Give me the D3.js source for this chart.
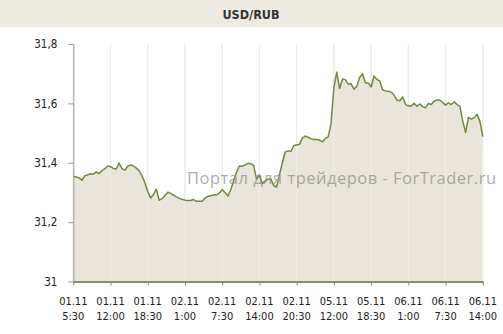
<!DOCTYPE html>
<html><head><meta charset="utf-8">
<script src="https://cdn.jsdelivr.net/npm/d3@7"></script>
<style>html,body{margin:0;padding:0;background:#fff;}svg{display:block;}</style>
</head><body>
<script>
const title = "USD/RUB";
const watermark = "Портал для трейдеров - ForTrader.ru";
// 30-minute steps from 01.11 5:30 to 06.11 14:00 (trading time)
const values = [
31.355,31.352,31.349,31.341,31.356,31.359,31.363,31.362,31.369,31.363,
31.373,31.380,31.389,31.387,31.381,31.379,31.399,31.380,31.375,31.388,
31.393,31.389,31.382,31.373,31.356,31.332,31.303,31.281,31.293,31.311,
31.274,31.279,31.290,31.301,31.297,31.291,31.285,31.280,31.277,31.274,
31.273,31.273,31.276,31.270,31.270,31.270,31.281,31.287,31.289,31.291,
31.292,31.298,31.309,31.300,31.288,31.310,31.339,31.368,31.389,31.388,
31.393,31.398,31.397,31.390,31.344,31.359,31.330,31.339,31.345,31.345,
31.323,31.318,31.360,31.400,31.436,31.440,31.438,31.458,31.460,31.462,
31.483,31.490,31.486,31.481,31.478,31.478,31.476,31.470,31.482,31.487,
31.532,31.653,31.705,31.650,31.682,31.680,31.665,31.666,31.648,31.658,
31.687,31.700,31.669,31.669,31.655,31.692,31.681,31.676,31.646,31.642,
31.641,31.638,31.628,31.611,31.609,31.622,31.597,31.591,31.591,31.600,
31.590,31.598,31.589,31.585,31.600,31.596,31.607,31.611,31.611,31.603,
31.594,31.602,31.596,31.605,31.596,31.591,31.540,31.502,31.553,31.547,
31.552,31.563,31.539,31.488];
const tickDates = ["01.11","01.11","01.11","02.11","02.11","02.11","02.11","05.11","05.11","06.11","06.11","06.11"];
const tickTimes = ["5:30","12:00","18:30","1:00","7:30","14:00","20:30","12:00","18:30","1:00","7:30","14:00"];
const tickIndex = tickDates.map((d,i)=>i*13);
const yTicks = [31, 31.2, 31.4, 31.6, 31.8];

const W = 503, H = 334;
const m = {left:73.3, right:503-482.8, top:44, bottom:334-281.5};
const svg = d3.select("body").append("svg").attr("width",W).attr("height",H);

svg.append("rect").attr("x",0).attr("y",0).attr("width",W).attr("height",27).attr("fill","#eeebe3");
svg.append("text").attr("x",251).attr("y",19).attr("text-anchor","middle")
  .attr("font-family","DejaVu Sans Condensed, DejaVu Sans, sans-serif").attr("font-weight","bold")
  .attr("font-size",12.5).attr("fill","#333").text(title);

const x = d3.scaleLinear().domain([0, values.length-1]).range([m.left, W-m.right]);
const y = d3.scaleLinear().domain([31, 31.8]).range([H-m.bottom, m.top]);

// grid
svg.append("g").selectAll("line").data(tickIndex).join("line")
  .attr("x1",d=>x(d)).attr("x2",d=>x(d)).attr("y1",m.top).attr("y2",H-m.bottom)
  .attr("stroke","#e4e4e4").attr("stroke-width",1);

const area = d3.area().x((d,i)=>x(i)).y0(y(31)).y1(d=>y(d));
svg.append("path").datum(values).attr("d",area).attr("fill","#e9e5da");

svg.append("g").selectAll("line").data(tickIndex).join("line")
  .attr("x1",d=>x(d)).attr("x2",d=>x(d)).attr("y1",m.top).attr("y2",H-m.bottom)
  .attr("stroke","#f1eee7").attr("stroke-width",1);

svg.append("path").datum(values).attr("d",d3.line().x((d,i)=>x(i)).y(d=>y(d)))
  .attr("fill","none").attr("stroke","#6f8a3f").attr("stroke-width",1.5).attr("stroke-linejoin","round");

// y axis
const fmt = v => v===31 ? "31" : d3.format(".1f")(v).replace(".",",");
const ya = svg.append("g").attr("transform",`translate(${m.left},0)`)
  .call(d3.axisLeft(y).tickValues(yTicks).tickFormat(fmt).tickSize(5).tickSizeOuter(0).tickPadding(11));
ya.select(".domain").attr("stroke","#9a9a9a");
ya.selectAll(".tick line").attr("stroke","#9a9a9a");
ya.selectAll("text").attr("font-family","DejaVu Sans Condensed, DejaVu Sans, sans-serif").attr("font-size",11.5).attr("fill","#222");

// x axis
const xa = svg.append("g").attr("transform",`translate(0,${H-m.bottom})`)
  .call(d3.axisBottom(x).tickValues(tickIndex).tickFormat("").tickSize(4).tickSizeOuter(0));
xa.select(".domain").attr("stroke","#8c8a70").attr("stroke-width",2);
xa.selectAll(".tick line").attr("stroke","#8c8a70");
const lbl = svg.append("g").attr("font-family","DejaVu Sans Condensed, DejaVu Sans, sans-serif").attr("font-size",11).attr("fill","#222").attr("text-anchor","middle");
lbl.selectAll("text.d").data(tickIndex).join("text").attr("class","d")
  .attr("x",d=>x(d)).attr("y",305).text((d,i)=>tickDates[i]);
lbl.selectAll("text.t").data(tickIndex).join("text").attr("class","t")
  .attr("x",d=>x(d)).attr("y",320).text((d,i)=>tickTimes[i]);

// watermark
svg.append("text").attr("x",187).attr("y",184).attr("font-family","Open Sans, sans-serif")
  .attr("font-size",16.5).attr("textLength",309).attr("lengthAdjust","spacing")
  .attr("fill","#8f8f8f").attr("fill-opacity",0.75).text(watermark);
</script>
</body></html>
